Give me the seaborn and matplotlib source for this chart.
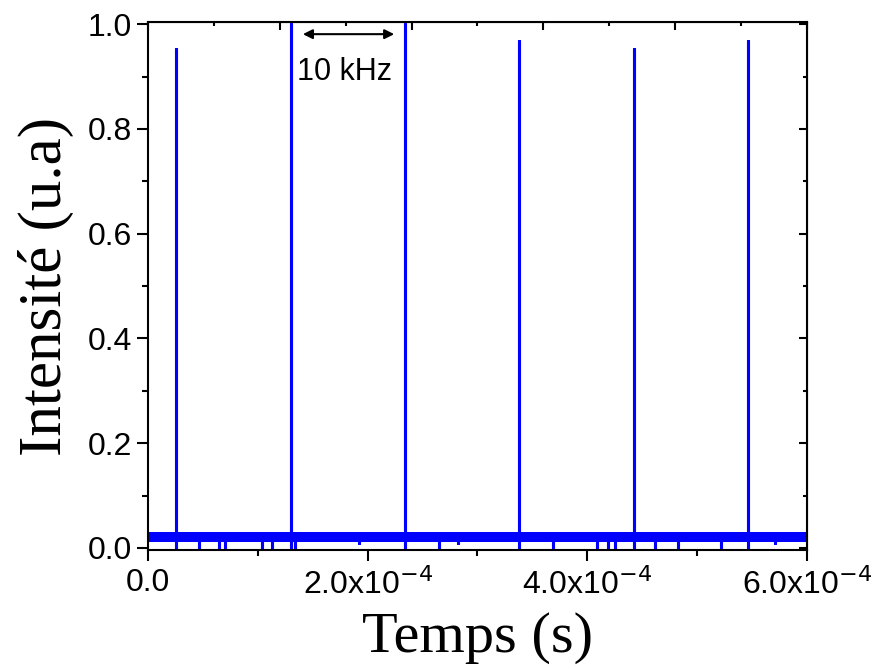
import numpy as np
import pandas as pd
import seaborn as sns
import matplotlib.pyplot as plt
from matplotlib.ticker import MultipleLocator, FixedLocator

sns.set_style('ticks')
plt.rcParams['font.family'] = ['Liberation Sans', 'DejaVu Sans']
plt.rcParams.update({'text.color': 'black', 'axes.labelcolor': 'black',
                     'xtick.color': 'black', 'ytick.color': 'black'})

# pulse train: peak times (s) and heights (a.u.)
peak_times = [2.55e-5, 1.302e-4, 2.340e-4, 3.378e-4, 4.425e-4, 5.463e-4]
peak_heights = [0.953, 1.0, 1.0, 0.968, 0.953, 0.968]

# deep dips of the noisy baseline (down to ~0)
dip_times = [4.64e-5, 6.46e-5, 7.01e-5, 1.038e-4, 1.129e-4, 1.338e-4,
             2.649e-4, 3.687e-4, 4.088e-4, 4.188e-4, 4.252e-4, 4.616e-4,
             4.825e-4, 5.217e-4]
dip_levels = [0.0, 0.0, 0.0, 0.0, 0.0, 0.0, 0.0, 0.0, 0.0, 0.0, 0.0, 0.0,
              0.0, 0.0]
# shallow notches
notch_times = [1.921e-4, 2.822e-4, 5.709e-4]
notch_levels = [0.010, 0.010, 0.010]

# baseline noise band
band_t = [0.0, 6.0e-4]
band_low = [0.012, 0.012]
band_high = [0.030, 0.030]
base_level = 0.021

# build the trace
events = []
for t, h in zip(peak_times, peak_heights):
    events.append((t, [base_level, h, 0.0, base_level]))
for t, v in zip(dip_times, dip_levels):
    events.append((t, [base_level, v, base_level]))
for t, v in zip(notch_times, notch_levels):
    events.append((t, [base_level, v, base_level]))
events.sort(key=lambda e: e[0])

xs = [band_t[0]]
ys = [base_level]
for t, vals in events:
    for v in vals:
        xs.append(t)
        ys.append(v)
xs.append(band_t[1])
ys.append(base_level)
df = pd.DataFrame({'t': xs, 'I': ys})

fig = plt.figure(figsize=(8.72, 6.70), dpi=100)
ax = fig.add_axes([0.170, 0.179, 0.755, 0.788])

ax.fill_between(band_t, band_low, band_high, color='#0000FF', lw=0)
sns.lineplot(data=df, x='t', y='I', sort=False, estimator=None,
             color='#0000FF', lw=2.2, ax=ax)

ax.set_xlim(0, 6.0e-4)
ax.set_ylim(-0.004, 1.004)

ax.xaxis.set_major_locator(FixedLocator([0, 2e-4, 4e-4, 6e-4]))
ax.xaxis.set_minor_locator(MultipleLocator(1e-4))
ax.set_xticklabels(['0.0', r'2.0x10$^{-4}$', r'4.0x10$^{-4}$',
                    r'6.0x10$^{-4}$'])
ax.yaxis.set_major_locator(MultipleLocator(0.2))
ax.yaxis.set_minor_locator(MultipleLocator(0.1))
ax.yaxis.set_major_formatter(plt.FuncFormatter(lambda v, p: f'{v:.1f}'))

ax.tick_params(which='major', direction='out', length=8, width=1.5,
               labelsize=23, colors='black')
ax.tick_params(which='minor', direction='out', length=4, width=1.5)
ax.tick_params(axis='x', pad=5)

for s in ax.spines.values():
    s.set_visible(True)
    s.set_linewidth(1.5)
    s.set_color('black')

# mirrored axes with inward ticks
top = ax.secondary_xaxis('top')
top.xaxis.set_major_locator(MultipleLocator(1.2e-4))
top.xaxis.set_minor_locator(MultipleLocator(0.6e-4))
top.tick_params(which='major', direction='in', length=6, width=1.5,
                labeltop=False)
top.tick_params(which='minor', direction='in', length=3, width=1.5)
right = ax.secondary_yaxis('right')
right.yaxis.set_major_locator(MultipleLocator(0.2))
right.yaxis.set_minor_locator(MultipleLocator(0.1))
right.tick_params(which='major', direction='in', length=6, width=1.5,
                  labelright=False)
right.tick_params(which='minor', direction='in', length=3, width=1.5)

ax.set_xlabel('Temps (s)', family=['Liberation Serif'], fontsize=42,
              labelpad=8)
ax.set_ylabel('Intensité (u.a)', family=['Liberation Serif'], fontsize=44,
              labelpad=10)

ax.annotate('', xy=(1.384e-4, 0.981), xytext=(2.267e-4, 0.981),
            arrowprops=dict(arrowstyle='<|-|>', color='black', lw=1.5,
                            mutation_scale=14))
ax.text(1.785e-4, 0.908, '10 kHz', fontsize=22, ha='center', va='center')

fig.savefig('out.png', dpi=100)
